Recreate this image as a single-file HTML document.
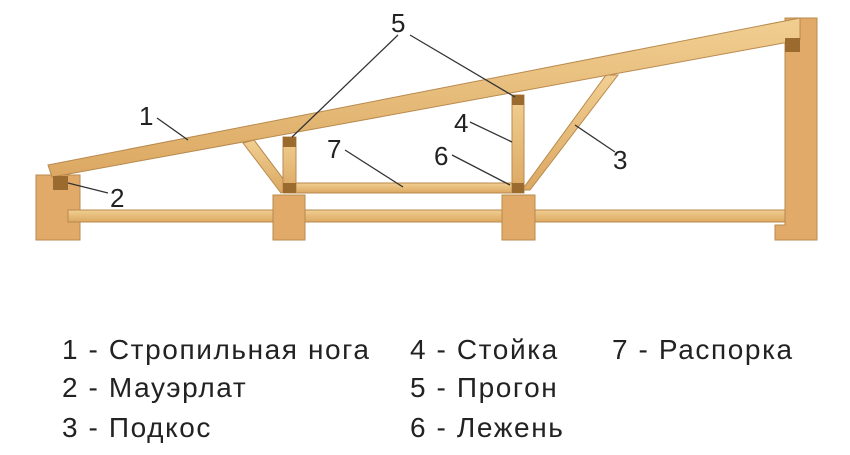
<!DOCTYPE html>
<html><head><meta charset="utf-8"><style>
body{margin:0;background:#fff;width:850px;height:455px;overflow:hidden;font-family:"Liberation Sans","DejaVu Sans",sans-serif}
svg{position:absolute;left:0;top:0}
.l{position:absolute;font-size:28px;letter-spacing:1.6px;line-height:32px;color:#222;white-space:nowrap}
</style></head><body>
<svg width="850" height="455" viewBox="0 0 850 455">
<defs><linearGradient id="w" x1="0" y1="0" x2="0" y2="1"><stop offset="0" stop-color="#f1cf92"/><stop offset="1" stop-color="#dba862"/></linearGradient></defs>
<g fill="url(#w)" stroke="#b98a4e" stroke-width="1">
<rect x="36" y="175" width="44" height="65" fill="#e2aa68"/>
<rect x="68" y="210" width="717" height="12"/>
<rect x="273" y="195" width="32" height="45" fill="#e2aa68"/>
<rect x="502" y="195" width="33" height="45" fill="#e2aa68"/>
<polygon points="785,18 817,18 817,240 775,240 775,225 785,225" fill="#e2aa68"/>
<polygon points="243,143 254,140 290,188 281,193"/>
<polygon points="522,190 530,190 618,75 606,75"/>
<rect x="283" y="137" width="13" height="56"/>
<rect x="512" y="95" width="12" height="98"/>
<rect x="296" y="183" width="216" height="10"/>
<polygon points="48,165 800,18 800,40 52,177"/>
</g>
<g fill="#9a6a2e">
<rect x="53" y="176" width="15" height="14"/>
<rect x="785" y="38" width="15" height="14"/>
<rect x="283" y="137" width="13" height="10"/>
<rect x="283" y="183" width="13" height="10"/>
<rect x="512" y="95" width="12" height="10"/>
<rect x="512" y="183" width="12" height="10"/>
</g>
<g stroke="#333" stroke-width="1.3" fill="none">
<line x1="398" y1="35" x2="292" y2="137"/>
<line x1="410" y1="35" x2="515" y2="97"/>
<line x1="157" y1="118" x2="188" y2="140"/>
<line x1="108" y1="193" x2="68" y2="183"/>
<line x1="470" y1="122" x2="512" y2="142"/>
<line x1="452" y1="155" x2="510" y2="185"/>
<line x1="345" y1="150" x2="403" y2="187"/>
<line x1="615" y1="152" x2="575" y2="125"/>
</g>
<g font-family="Liberation Sans,sans-serif" font-size="26" fill="#222">
<text x="391" y="32">5</text>
<text x="139" y="125">1</text>
<text x="110" y="207">2</text>
<text x="454" y="132">4</text>
<text x="434" y="165">6</text>
<text x="327" y="158">7</text>
<text x="613" y="169">3</text>
</g>
</svg>
<div class="l" style="left:62px;top:334px">1 - Стропильная нога</div>
<div class="l" style="left:62px;top:372px">2 - Мауэрлат</div>
<div class="l" style="left:62px;top:412px">3 - Подкос</div>
<div class="l" style="left:410px;top:334px">4 - Стойка</div>
<div class="l" style="left:410px;top:372px">5 - Прогон</div>
<div class="l" style="left:410px;top:412px">6 - Лежень</div>
<div class="l" style="left:612px;top:334px">7 - Распорка</div>
</body></html>
